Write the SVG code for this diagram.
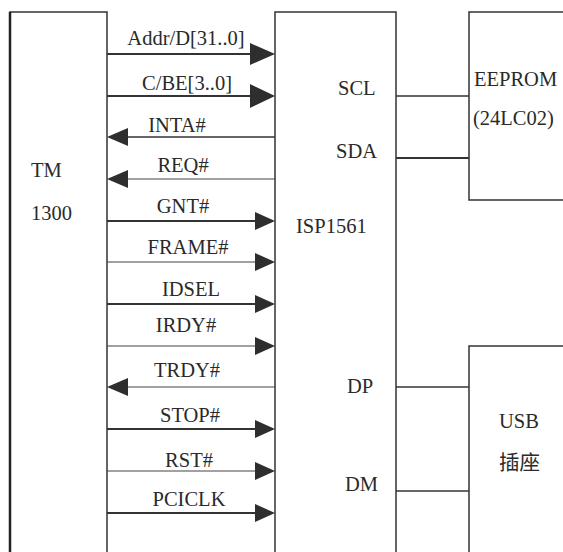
<svg xmlns="http://www.w3.org/2000/svg" width="563" height="552" viewBox="0 0 563 552">
<style>
text{font-family:"Liberation Serif","Times New Roman","Noto Sans CJK SC",serif;font-size:20.5px;fill:#2a2a2a}
.m{text-anchor:middle}
.box{fill:none;stroke:#333;stroke-width:1.5}
.w{stroke:#333;stroke-width:1.5;fill:none}
.t{stroke:#333;stroke-width:2.2;fill:none}
.s{stroke:#444;stroke-width:1.2;fill:none}
.ah{fill:#2e2e2e}
</style>
<rect width="563" height="552" fill="#fff"/>
<g id="tm1300">
<path class="box" d="M10,552 V12 H107 V552"/>
<line x1="10" y1="12" x2="10" y2="552" stroke="#222" stroke-width="2.5"/>
<text x="31" y="177">TM</text>
<text x="31" y="220">1300</text>
</g>
<g id="isp1561">
<path class="box" d="M275,552 V12 H396 V552"/>
<text x="338" y="95">SCL</text>
<text x="336" y="158">SDA</text>
<text x="296" y="233">ISP1561</text>
<text x="347" y="393">DP</text>
<text x="345" y="491">DM</text>
</g>
<g id="eeprom">
<path class="box" d="M563,200 H469 V12 H563"/>
<text x="474" y="86">EEPROM</text>
<text x="473" y="125">(24LC02)</text>
</g>
<g id="usb">
<path class="box" d="M469,552 V346 H563"/>
<text x="499" y="428">USB</text>
<text x="499" y="470">插座</text>
</g>
<g id="connectors">
<line class="t" x1="107" y1="54" x2="255" y2="54"/>
<polygon class="ah" points="250,43 275,54 250,65"/>
<text class="m" x="186" y="45">Addr/D[31..0]</text>
<line class="t" x1="107" y1="96" x2="255" y2="96"/>
<polygon class="ah" points="250,84 275,96 250,108"/>
<text class="m" x="187" y="90">C/BE[3..0]</text>
<line class="w" x1="120" y1="137" x2="275" y2="137"/>
<polygon class="ah" points="128,128 107,137 128,146"/>
<text class="m" x="177" y="132">INTA#</text>
<line class="s" x1="120" y1="179" x2="275" y2="179"/>
<polygon class="ah" points="128,170 107,179 128,188"/>
<text class="m" x="183" y="172">REQ#</text>
<line class="t" x1="107" y1="221" x2="260" y2="221"/>
<polygon class="ah" points="255,212 275,221 255,230"/>
<text class="m" x="183" y="213">GNT#</text>
<line class="s" x1="107" y1="262" x2="260" y2="262"/>
<polygon class="ah" points="255,253 275,262 255,271"/>
<text class="m" x="188" y="254">FRAME#</text>
<line class="t" x1="107" y1="304" x2="260" y2="304"/>
<polygon class="ah" points="255,295 275,304 255,313"/>
<text class="m" x="191" y="296">IDSEL</text>
<line class="s" x1="107" y1="346" x2="260" y2="346"/>
<polygon class="ah" points="255,337 275,346 255,355"/>
<text class="m" x="186" y="332">IRDY#</text>
<line class="s" x1="120" y1="387" x2="275" y2="387"/>
<polygon class="ah" points="128,378 107,387 128,396"/>
<text class="m" x="187" y="377">TRDY#</text>
<line class="t" x1="107" y1="429" x2="260" y2="429"/>
<polygon class="ah" points="255,420 275,429 255,438"/>
<text class="m" x="190" y="422">STOP#</text>
<line class="s" x1="107" y1="471" x2="260" y2="471"/>
<polygon class="ah" points="255,462 275,471 255,480"/>
<text class="m" x="189" y="467">RST#</text>
<line class="t" x1="107" y1="513" x2="260" y2="513"/>
<polygon class="ah" points="255,504 275,513 255,522"/>
<text class="m" x="189" y="506">PCICLK</text>
<line class="w" x1="396" y1="96" x2="469" y2="96"/>
<line class="t" x1="396" y1="158" x2="469" y2="158"/>
<line class="w" x1="396" y1="387" x2="469" y2="387"/>
<line class="w" x1="396" y1="491" x2="469" y2="491"/>
</g>
</svg>
